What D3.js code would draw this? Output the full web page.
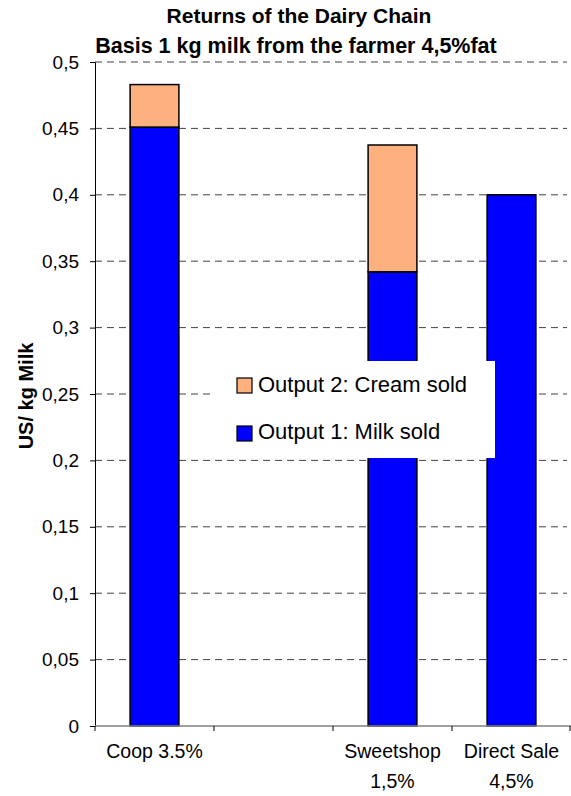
<!DOCTYPE html>
<html>
<head>
<meta charset="utf-8">
<script src="https://cdn.jsdelivr.net/npm/d3@7"></script>
<style>
  html, body { margin: 0; padding: 0; background: #fff; }
  svg { display: block; }
  text { font-family: Arial, "Liberation Sans", sans-serif; fill: #000; }
</style>
</head>
<body>
<svg id="chart" width="571" height="796"></svg>
<script>
// ---- data ----
const categories = ["Coop 3.5%", "", "Sweetshop 1,5%", "Direct Sale 4,5%"];
const categoryLines = [["Coop 3.5%"], [""], ["Sweetshop", "1,5%"], ["Direct Sale", "4,5%"]];
const milkSold = [0.451, 0, 0.342, 0.400];
const creamSold = [0.032, 0, 0.0955, 0];
const seriesNames = ["Output 1: Milk sold", "Output 2: Cream sold"];
const yTicks = [0, 0.05, 0.1, 0.15, 0.2, 0.25, 0.3, 0.35, 0.4, 0.45, 0.5];
const titleLines = ["Returns of the Dairy Chain", "Basis 1 kg milk from the farmer 4,5%fat"];
const yTitle = "US/ kg Milk";

const colors = { milk: "#0000FF", cream: "#FFB07F" };

const svg = d3.select("#chart");
const mLeft = 95, mRight = 571, mTop = 62, mBottom = 726;

const x = d3.scaleBand().domain(d3.range(categories.length)).range([mLeft, mRight]).padding(0);
const y = d3.scaleLinear().domain([0, 0.5]).range([mBottom, mTop]);
const barW = x.bandwidth() * 0.41;

// gridlines
svg.append("g").selectAll("line").data(yTicks.filter(t => t > 0)).join("line")
  .attr("x1", mLeft).attr("x2", 567)
  .attr("y1", d => y(d)).attr("y2", d => y(d))
  .attr("stroke", "#444").attr("stroke-width", 1).attr("stroke-dasharray", "7,5");

// stacked bars
const stackData = categories.map((c, i) => ({ i, milk: milkSold[i], cream: creamSold[i] }));
const stack = d3.stack().keys(["milk", "cream"])(stackData);
svg.append("g").selectAll("g").data(stack).join("g")
  .attr("fill", d => colors[d.key])
  .selectAll("rect").data(d => d.filter(p => p[1] - p[0] > 0)).join("rect")
  .attr("x", d => x(d.data.i) + (x.bandwidth() - barW) / 2)
  .attr("width", barW)
  .attr("y", d => y(d[1]))
  .attr("height", d => y(d[0]) - y(d[1]))
  .attr("stroke", "#000").attr("stroke-width", 1.5);

// y axis
const yAxis = svg.append("g").attr("transform", `translate(${mLeft},0)`)
  .call(d3.axisLeft(y).tickValues(yTicks).tickSize(5).tickPadding(11)
    .tickFormat(d => String(+d.toFixed(2)).replace(".", ",")));
yAxis.select(".domain").attr("stroke", "#000");
yAxis.selectAll(".tick line").attr("stroke", "#000");
yAxis.selectAll("text").attr("font-size", 19).attr("font-family", "Arial, 'Liberation Sans', sans-serif");

// x axis
const xAxisG = svg.append("g").attr("transform", `translate(0,${mBottom})`);
xAxisG.append("line").attr("x1", mLeft).attr("x2", mRight).attr("stroke", "#808080").attr("stroke-width", 1.5);
xAxisG.selectAll("line.tk").data(d3.range(categories.length + 1)).join("line").attr("class", "tk")
  .attr("x1", i => i < categories.length ? x(i) : mRight - 1)
  .attr("x2", i => i < categories.length ? x(i) : mRight - 1)
  .attr("y1", 0).attr("y2", 5).attr("stroke", "#000");

// category labels
const catG = svg.append("g");
categoryLines.forEach((lines, i) => {
  lines.forEach((ln, j) => {
    catG.append("text")
      .attr("x", x(i) + x.bandwidth() / 2)
      .attr("y", 758 + j * 30)
      .attr("text-anchor", "middle")
      .attr("font-size", 19.5)
      .text(ln);
  });
});

// title
svg.append("text").attr("x", 299).attr("y", 23).attr("text-anchor", "middle")
  .attr("font-size", 21).attr("font-weight", "bold").text(titleLines[0]);
svg.append("text").attr("x", 296).attr("y", 53).attr("text-anchor", "middle")
  .attr("font-size", 21.5).attr("font-weight", "bold").text(titleLines[1]);

// y title
svg.append("text").attr("transform", "translate(33,396) rotate(-90)")
  .attr("text-anchor", "middle").attr("font-size", 20).attr("font-weight", "bold").text(yTitle);

// legend
const lg = svg.append("g");
lg.append("rect").attr("x", 213).attr("y", 361).attr("width", 282).attr("height", 97).attr("fill", "#fff");
const legendItems = [
  { name: seriesNames[1], color: colors.cream },
  { name: seriesNames[0], color: colors.milk }
];
legendItems.forEach((d, k) => {
  lg.append("rect").attr("x", 237).attr("y", 378 + k * 48).attr("width", 15).attr("height", 15)
    .attr("fill", d.color).attr("stroke", "#000").attr("stroke-width", 1.2);
  lg.append("text").attr("x", 258).attr("y", 392 + k * 47).attr("font-size", 22).text(d.name);
});
</script>
</body>
</html>
